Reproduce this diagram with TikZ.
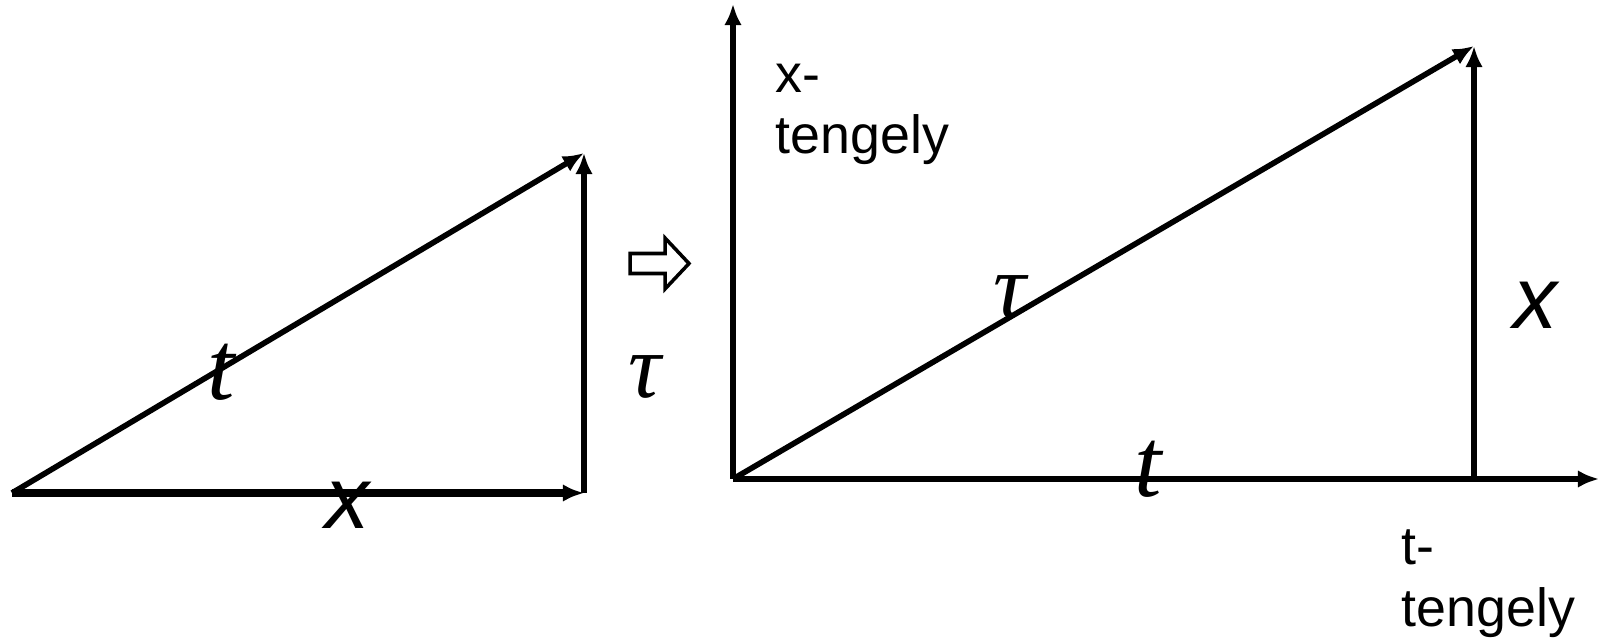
\documentclass[tikz,border=0pt]{standalone}
\usepackage{fontspec}
\setmainfont{Liberation Serif}
\setsansfont{Liberation Sans}
\usetikzlibrary{arrows.meta}
\begin{document}
\begin{tikzpicture}[>={Latex[length=6pt,width=5pt]},line width=1.6pt,every node/.style={inner sep=0pt},
  axlabel/.style={font=\sffamily\fontsize{15.3}{17.5}\selectfont,align=left,anchor=north west},
  vart/.style={font=\fontsize{28}{28}\selectfont\itshape},
  vartau/.style={font=\fontsize{26}{26}\selectfont\itshape},
  varx/.style={font=\sffamily\fontsize{25}{25}\selectfont\itshape}]
\useasboundingbox (0,0) rectangle (15.99,6.38);
% left triangle
\coordinate (A) at (0.12,1.45);
\coordinate (B) at (5.84,1.45);
\coordinate (C) at (5.84,4.85);
\draw[->,line width=2.1pt] (A)--(B);
\draw[->] (B)--(C);
\draw[->] (A)--(C);
\node[vart] (lt) at (2.21,2.66){t};
\node[varx] (lx) at (3.47,1.33){x};
\node[vartau] (ltau) at (6.45,2.61){τ};
% hollow arrow
\draw[line width=1pt] (6.30,3.645)--(6.65,3.645)--(6.65,3.49)--(6.89,3.745)--(6.65,4.00)--(6.65,3.845)--(6.30,3.845)--cycle;
% right triangle with axes
\coordinate (O) at (7.33,1.59);
\coordinate (Y) at (7.33,6.34);
\coordinate (T) at (15.99,1.59);
\coordinate (F) at (14.74,1.59);
\coordinate (P) at (14.74,5.92);
\draw[->] (O)--(Y);
\draw[->] (O)--(T);
\draw[->] (F)--(P);
\draw[->] (O)--(P);
\node[axlabel] (xax) at (7.73,5.77){x-\\tengely};
\node[axlabel] (tax) at (13.99,1.11){t-\\tengely};
\node[vartau] (rtau) at (10.10,3.41){τ};
\node[varx] (rx) at (15.35,3.33){x};
\node[vart] (rt) at (11.48,1.69){t};
\end{tikzpicture}
\end{document}
